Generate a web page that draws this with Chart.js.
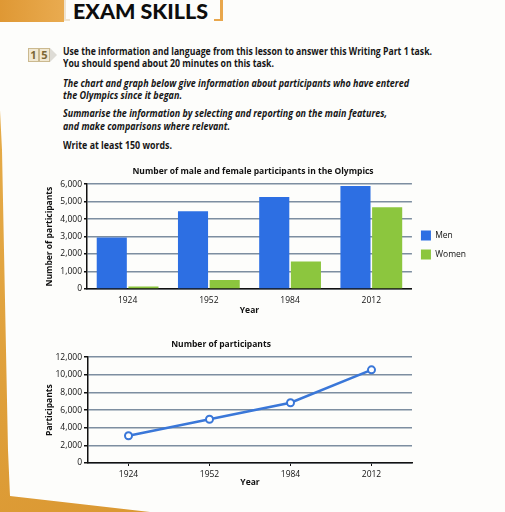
<!DOCTYPE html>
<html><head><meta charset="utf-8">
<script src="https://cdn.jsdelivr.net/npm/chart.js@4.4.0/dist/chart.umd.min.js"></script>
<style>
html,body{margin:0;padding:0;}
body{width:505px;height:512px;position:relative;overflow:hidden;background:#fdfdfb;font-family:"Open Sans",sans-serif;color:#161616;}
.abs{position:absolute;}
#edge{left:0;top:0;width:505px;height:512px;background:linear-gradient(160deg,#e8b04e,#d8932c);clip-path:polygon(0 110px,2px 150px,8px 450px,10px 496px,150px 512px,0 512px);}
#band{left:0;top:0;width:64px;height:22px;background:linear-gradient(90deg,#df9834,#e9ab50);}
#lb{left:64px;top:-2px;width:4px;height:21px;border-left:2px solid #efe3cf;border-bottom:2px solid #efe3cf;}
#rb{left:214px;top:-2px;width:6px;height:21px;border-right:3px solid #e9a74c;border-bottom:2px solid #e9a74c;}
#hdr{left:73px;top:1px;font-family:Lato,sans-serif;font-weight:900;font-size:20.5px;line-height:20px;white-space:nowrap;transform-origin:0 0;color:#0d0d0d;}
.t{position:absolute;left:63px;font-size:10.5px;line-height:12px;font-weight:700;white-space:nowrap;transform-origin:0 0;}
.i{font-style:italic;}
.cell{position:absolute;top:48px;height:12px;width:9px;border:1px solid #cbb98f;background:#f1e8d2;color:#7a6634;font:700 11px/12px "Open Sans",sans-serif;text-align:center;}
#arrow{left:50px;top:48px;width:7px;height:14px;background:#dedcd6;clip-path:polygon(0 0,100% 50%,0 100%);}
#c1{left:30px;top:160px;}
#c2{left:30px;top:333px;}
canvas{position:absolute;}
</style></head>
<body>
<div id="edge" class="abs"></div>
<div id="band" class="abs"></div>
<div id="lb" class="abs"></div>
<div id="rb" class="abs"></div>
<div id="hdr" class="abs" data-w="135">EXAM SKILLS</div>
<div class="cell" style="left:28px">1</div>
<div class="cell" style="left:39px">5</div>
<div id="arrow" class="abs"></div>
<div class="t" style="top:44.5px" data-w="369">Use the information and language from this lesson to answer this Writing Part 1 task.</div>
<div class="t" style="top:57px" data-w="211">You should spend about 20 minutes on this task.</div>
<div class="t i" style="top:76.5px" data-w="346">The chart and graph below give information about participants who have entered</div>
<div class="t i" style="top:88.5px" data-w="119">the Olympics since it began.</div>
<div class="t i" style="top:107px" data-w="324">Summarise the information by selecting and reporting on the main features,</div>
<div class="t i" style="top:119.5px" data-w="167">and make comparisons where relevant.</div>
<div class="t" style="top:138.5px" data-w="109">Write at least 150 words.</div>
<canvas id="c1" width="446" height="160"></canvas>
<canvas id="c2" width="400" height="157"></canvas>
<script>
const years = ['1924', '1952', '1984', '2012'];
const men = [2950, 4450, 5270, 5900];
const women = [140, 520, 1570, 4680];
const totals = [3090, 4960, 6830, 10570];
const seriesNames = ['Men', 'Women'];
const barTitle = 'Number of male and female participants in the Olympics';
const lineTitle = 'Number of participants';

document.querySelectorAll('[data-w]').forEach(el => {
  const w = el.getBoundingClientRect().width;
  el.style.transform = 'scaleX(' + (parseFloat(el.dataset.w) / w) + ')';
});

Chart.defaults.font.family = "'Open Sans', sans-serif";
Chart.defaults.font.size = 8.5;
Chart.defaults.color = '#111';
const gridCol = '#7d8ea0';
const fmt = v => Number(v).toLocaleString('en-US');

new Chart(document.getElementById('c1'), {
  type: 'bar',
  data: {
    labels: years,
    datasets: [
      {label: seriesNames[0], data: men, backgroundColor: '#2d6fe3', categoryPercentage: 0.78, barPercentage: 0.95},
      {label: seriesNames[1], data: women, backgroundColor: '#8cc63e', categoryPercentage: 0.78, barPercentage: 0.95}
    ]
  },
  options: {
    responsive: false, animation: false, devicePixelRatio: 1,
    layout: {padding: {left: 0, right: 0, top: 0, bottom: 0}},
    plugins: {
      title: {display: true, text: barTitle, font: {size: 8.5, weight: 'bold'}, padding: {top: 6, bottom: 8}, color: '#111'},
      legend: {position: 'right',
        title: {display: true, text: ' ', font: {size: 5}, padding: 2},
        labels: {boxWidth: 10, boxHeight: 10, padding: 9, font: {size: 8.5}, color: '#111'}},
      tooltip: {enabled: false}
    },
    scales: {
      x: {
        grid: {display: false, drawTicks: false},
        border: {display: true, color: '#111', width: 1.5},
        ticks: {padding: 6},
        title: {display: true, text: 'Year', font: {size: 8.5, weight: 'bold'}, padding: {top: 0, bottom: 4}},
        afterFit: s => { s.height = 31; }
      },
      y: {
        min: 0, max: 6000,
        ticks: {stepSize: 1000, callback: fmt, padding: 2},
        grid: {color: gridCol, lineWidth: 1.5, tickLength: 3, tickColor: '#111'},
        border: {display: true, color: '#111', width: 1.5},
        title: {display: true, text: 'Number of participants', font: {size: 8.5, weight: 'bold'}, padding: {top: 14, bottom: 0}},
        afterFit: s => { s.width = 57; }
      }
    }
  }
});

new Chart(document.getElementById('c2'), {
  type: 'line',
  data: {
    labels: years,
    datasets: [{
      label: 'Participants', data: totals, borderColor: '#3a77d8', borderWidth: 2.5,
      pointRadius: 3.5, pointBorderWidth: 2, pointBackgroundColor: '#ffffff', pointBorderColor: '#3a77d8', tension: 0
    }]
  },
  options: {
    responsive: false, animation: false, devicePixelRatio: 1,
    layout: {padding: {left: 0, right: 18, top: 0, bottom: 0}},
    plugins: {
      title: {display: true, text: lineTitle, font: {size: 8.5, weight: 'bold'}, padding: {top: 6, bottom: 8}, color: '#111'},
      legend: {display: false},
      tooltip: {enabled: false}
    },
    scales: {
      x: {
        offset: true,
        grid: {display: true, drawOnChartArea: false, offset: false, tickLength: 3, tickColor: '#111'},
        border: {display: true, color: '#111', width: 1.5},
        ticks: {padding: 3},
        title: {display: true, text: 'Year', font: {size: 8.5, weight: 'bold'}, padding: {top: 0, bottom: 2}},
        afterFit: s => { s.height = 27; }
      },
      y: {
        min: 0, max: 12000,
        ticks: {stepSize: 2000, callback: fmt, padding: 2},
        grid: {color: gridCol, lineWidth: 1.5, tickLength: 4, tickColor: '#111'},
        border: {display: true, color: '#111', width: 1.5},
        title: {display: true, text: 'Participants', font: {size: 8.5, weight: 'bold'}, padding: {top: 14, bottom: 0}},
        afterFit: s => { s.width = 58; }
      }
    }
  }
});
</script>
</body></html>
